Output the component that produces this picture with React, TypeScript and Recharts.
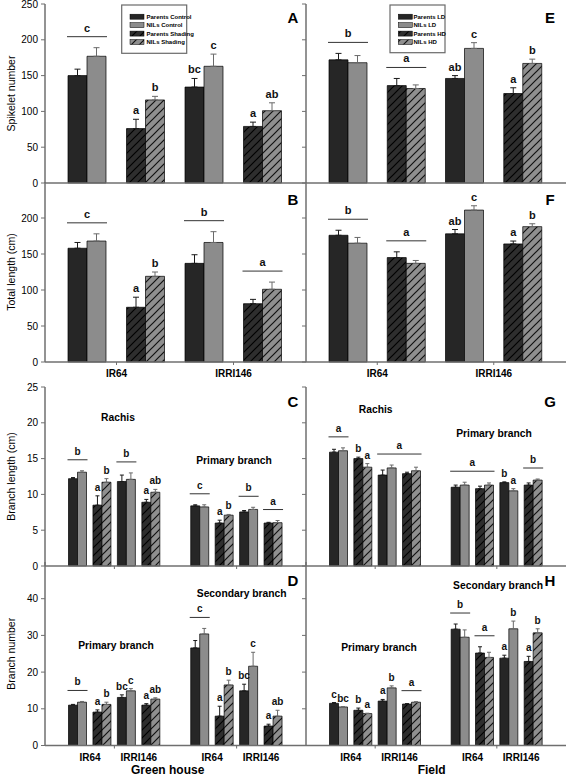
import React from "react";
import { BarChart, Bar, XAxis, YAxis, ErrorBar, Cell, LabelList } from "recharts";

const FONT = "'Liberation Sans', Arial, sans-serif";
const AXIS = "#6f6f6f";
const PARENT = "#262626";
const NIL = "#8c8c8c";

// ---- spikelet number / total length: four pairs per panel
const ghCats = ["IR64 Control", "IR64 Shading", "IRRI146 Control", "IRRI146 Shading"];
const fieldCats = ["IR64 LD", "IR64 HD", "IRRI146 LD", "IRRI146 HD"];

// A
const spikeGhParents = [150, 76, 134, 79];
const spikeGhParentsErr = [9, 13, 12, 6];
const spikeGhNils = [177, 116, 163, 101];
const spikeGhNilsErr = [12, 5, 17, 11];
const spikeGhParentLetters = ["", "a", "bc", "a"];
const spikeGhNilLetters = ["", "b", "c", "ab"];
const spikeGhGroups = [{ from: 0, to: 0, letter: "c" }];

// E
const spikeFieldParents = [172, 136, 146, 125];
const spikeFieldParentsErr = [9, 10, 4, 8];
const spikeFieldNils = [168, 132, 188, 167];
const spikeFieldNilsErr = [10, 5, 8, 6];
const spikeFieldParentLetters = ["", "", "ab", "a"];
const spikeFieldNilLetters = ["", "", "c", "b"];
const spikeFieldGroups = [{ from: 0, to: 0, letter: "b" }, { from: 1, to: 1, letter: "a" }];

// B
const lengthGhParents = [158, 76, 137, 81];
const lengthGhParentsErr = [8, 14, 12, 6];
const lengthGhNils = [168, 119, 166, 101];
const lengthGhNilsErr = [10, 6, 15, 10];
const lengthGhParentLetters = ["", "a", "", ""];
const lengthGhNilLetters = ["", "b", "", ""];
const lengthGhGroups = [
  { from: 0, to: 0, letter: "c" },
  { from: 2, to: 2, letter: "b" },
  { from: 3, to: 3, letter: "a" },
];

// F
const lengthFieldParents = [176, 145, 178, 164];
const lengthFieldParentsErr = [7, 8, 6, 4];
const lengthFieldNils = [165, 137, 211, 188];
const lengthFieldNilsErr = [8, 4, 6, 4];
const lengthFieldParentLetters = ["", "", "ab", "a"];
const lengthFieldNilLetters = ["", "", "c", "b"];
const lengthFieldGroups = [{ from: 0, to: 0, letter: "b" }, { from: 1, to: 1, letter: "a" }];

// ---- branch panels: two blocks of four pairs, "gap" separates them
const branchLenGhCats = [
  "Rachis IR64 Control", "Rachis IR64 Shading", "Rachis IRRI146 Control", "Rachis IRRI146 Shading", "gap",
  "Primary IR64 Control", "Primary IR64 Shading", "Primary IRRI146 Control", "Primary IRRI146 Shading",
];
const branchLenFieldCats = [
  "Rachis IR64 LD", "Rachis IR64 HD", "Rachis IRRI146 LD", "Rachis IRRI146 HD", "gap",
  "Primary IR64 LD", "Primary IR64 HD", "Primary IRRI146 LD", "Primary IRRI146 HD",
];
const branchNumGhCats = [
  "Primary IR64 Control", "Primary IR64 Shading", "Primary IRRI146 Control", "Primary IRRI146 Shading", "gap",
  "Secondary IR64 Control", "Secondary IR64 Shading", "Secondary IRRI146 Control", "Secondary IRRI146 Shading",
];
const branchNumFieldCats = [
  "Primary IR64 LD", "Primary IR64 HD", "Primary IRRI146 LD", "Primary IRRI146 HD", "gap",
  "Secondary IR64 LD", "Secondary IR64 HD", "Secondary IRRI146 LD", "Secondary IRRI146 HD",
];

// C
const branchLenGhParents = [12.2, 8.5, 11.8, 8.9, null, 8.4, 6.0, 7.55, 6.0];
const branchLenGhParentsErr = [0.15, 1.3, 0.9, 0.4, null, 0.15, 0.4, 0.2, 0.1];
const branchLenGhNils = [13.1, 11.7, 12.1, 10.3, null, 8.25, 7.1, 7.9, 6.05];
const branchLenGhNilsErr = [0.2, 0.5, 0.9, 0.4, null, 0.3, 0.1, 0.3, 0.3];
const branchLenGhParentLetters = ["", "a", "", "a", "", "", "a", "", ""];
const branchLenGhNilLetters = ["", "b", "", "ab", "", "", "b", "", ""];
const branchLenGhGroups = [
  { from: 0, to: 0, letter: "b" },
  { from: 2, to: 2, letter: "b" },
  { from: 5, to: 5, letter: "c" },
  { from: 7, to: 7, letter: "b" },
  { from: 8, to: 8, letter: "a" },
];

// G
const branchLenFieldParents = [15.9, 15.0, 12.7, 12.9, null, 11.0, 10.8, 11.65, 11.3];
const branchLenFieldParentsErr = [0.4, 0.2, 0.7, 0.2, null, 0.3, 0.35, 0.1, 0.3];
const branchLenFieldNils = [16.1, 13.8, 13.7, 13.3, null, 11.3, 11.3, 10.5, 12.0];
const branchLenFieldNilsErr = [0.4, 0.5, 0.4, 0.5, null, 0.4, 0.3, 0.3, 0.15];
const branchLenFieldParentLetters = ["", "b", "", "", "", "", "", "b", ""];
const branchLenFieldNilLetters = ["", "a", "", "", "", "", "", "a", ""];
const branchLenFieldGroups = [
  { from: 0, to: 0, letter: "a" },
  { from: 2, to: 3, letter: "a" },
  { from: 5, to: 6, letter: "a" },
  { from: 8, to: 8, letter: "b" },
];

// D
const branchNumGhParents = [11.0, 9.1, 13.1, 11.0, null, 26.6, 8.0, 14.9, 5.3];
const branchNumGhParentsErr = [0.2, 0.6, 0.7, 0.4, null, 2.0, 2.7, 1.8, 0.5];
const branchNumGhNils = [11.8, 11.2, 14.9, 12.65, null, 30.4, 16.5, 21.6, 8.0];
const branchNumGhNilsErr = [0.2, 0.6, 0.6, 0.35, null, 1.5, 1.3, 3.8, 1.6];
const branchNumGhParentLetters = ["", "a", "bc", "a", "", "", "a", "bc", "a"];
const branchNumGhNilLetters = ["", "b", "c", "ab", "", "", "b", "c", "ab"];
const branchNumGhGroups = [{ from: 0, to: 0, letter: "b" }, { from: 5, to: 5, letter: "c" }];

// H
const branchNumFieldParents = [11.5, 9.6, 12.1, 11.3, null, 31.7, 25.2, 23.8, 22.9];
const branchNumFieldParentsErr = [0.2, 0.6, 0.45, 0.1, null, 1.4, 1.7, 0.8, 1.4];
const branchNumFieldNils = [10.5, 8.7, 15.7, 11.8, null, 29.5, 24.0, 31.8, 30.7];
const branchNumFieldNilsErr = [0.1, 0.1, 0.55, 0.15, null, 2.0, 1.4, 2.1, 1.1];
const branchNumFieldParentLetters = ["c", "b", "a", "", "", "", "", "a", "a"];
const branchNumFieldNilLetters = ["bc", "a", "b", "", "", "", "", "b", "b"];
const branchNumFieldGroups = [
  { from: 3, to: 3, letter: "a" },
  { from: 5, to: 5, letter: "b" },
  { from: 6, to: 6, letter: "a" },
];

// axis ticks
const spikeTicks = [0, 50, 100, 150, 200, 250];
const lengthTicks = [0, 50, 100, 150, 200];
const branchLenTicks = [0, 5, 10, 15, 20, 25];
const branchNumTicks = [0, 10, 20, 30, 40];

const pairTickSlots = [0.5, 2.5];
const pairNames = ["IR64", "IRRI146"];
const branchTickSlots = [1.5, 6.5];
const branchNameSlots = [0.5, 2.5, 5.5, 7.5];
const branchNames = ["IR64", "IRRI146", "IR64", "IRRI146"];

const ghLegend = ["Parents Control", "NILs Control", "Parents Shading", "NILs Shading"];
const fieldLegend = ["Parents LD", "NILs LD", "Parents HD", "NILs HD"];

type Group = { from: number; to: number; letter: string };
type Row = { top: number; mt: number; plotH: number; xh: number; border?: boolean };
type Col = { x: number; w: number; yw: number; mr: number; labels: boolean };

const LEFT: Col = { x: 0, w: 306, yw: 45, mr: 0, labels: true };
const RIGHT: Col = { x: 296, w: 271, yw: 10, mr: 1, labels: false };
const ROW1: Row = { top: 0, mt: 4, plotH: 179, xh: 8, border: true };
const ROW2: Row = { top: 172, mt: 10, plotH: 180, xh: 30 };
const ROW3: Row = { top: 377, mt: 10, plotH: 179, xh: 8, border: true };
const ROW4: Row = { top: 552, mt: 10, plotH: 183.5, xh: 32.5 };

const isHatched = (cat: string) => /(Shading|HD)$/.test(cat);

interface PanelProps {
  id: string;
  col: Col;
  row: Row;
  cats: string[];
  parents: (number | null)[];
  parentsErr: (number | null)[];
  nils: (number | null)[];
  nilsErr: (number | null)[];
  parentLetters: string[];
  nilLetters: string[];
  groups: Group[];
  yMax: number;
  yTicks: number[];
  tickSlots: number[];
  nameSlots: number[];
  names: string[];
  extras?: React.ReactNode;
}

const geom = (props: any) => {
  const src = typeof props.x === "number" && typeof props.height === "number" ? props : props.viewBox;
  return { x: src.x as number, y: src.y as number, w: src.width as number, h: src.height as number };
};

function Panel(p: PanelProps) {
  const { col, row } = p;
  const n = p.cats.length;
  const wide = n <= 4;
  const barSize = wide ? 19 : 9;
  const capW = wide ? 3 : 2;
  const fs = wide ? 11 : 10;
  const pad = wide ? { left: 13, right: 14 } : { left: 20.5, right: 20.5 };
  const plotW = col.w - col.yw - col.mr;
  const step = (plotW - pad.left - pad.right) / n;
  const height = row.mt + row.plotH + row.xh;
  const dark = `dark-${p.id}`;
  const grey = `grey-${p.id}`;

  const data = p.cats.map((cat, i) => ({
    cat,
    idx: i,
    parents: p.parents[i],
    nils: p.nils[i],
    parentsErr: p.parentsErr[i] == null ? null : [0, p.parentsErr[i]],
    nilsErr: p.nilsErr[i] == null ? null : [0, p.nilsErr[i]],
  }));

  const letterText = (x: number, y: number, t: string) => (
    <text x={x} y={y} textAnchor="middle" fontSize={fs} fontWeight="bold" fill="#111">
      {t}
    </text>
  );

  const parentLabel = (props: any) => {
    const i = props.value as number;
    const v = p.parents[i];
    if (v == null) return null;
    const { x, y, w, h } = geom(props);
    const k = h / v;
    const out: React.ReactNode[] = [];
    const t = p.parentLetters[i];
    if (t) out.push(<g key="l">{letterText(x + w / 2, y - k * (p.parentsErr[i] ?? 0) - 5, t)}</g>);
    const g = p.groups.find((gr) => gr.from === i);
    if (g) {
      let hi = 0;
      for (let j = g.from; j <= g.to; j++) {
        hi = Math.max(hi, (p.parents[j] ?? 0) + (p.parentsErr[j] ?? 0), (p.nils[j] ?? 0) + (p.nilsErr[j] ?? 0));
      }
      const ly = y + h - k * hi - 11;
      const x1 = x - 1;
      const x2 = x + (g.to - g.from) * step + 2 * w + 1;
      out.push(
        <g key="g">
          <line x1={x1} x2={x2} y1={ly} y2={ly} stroke="#333" strokeWidth={1} />
          {letterText((x1 + x2) / 2, ly - 5, g.letter)}
        </g>
      );
    }
    return <g>{out}</g>;
  };

  const nilLabel = (props: any) => {
    const i = props.value as number;
    const v = p.nils[i];
    const t = p.nilLetters[i];
    if (v == null || !t) return null;
    const { x, y, w, h } = geom(props);
    const k = h / v;
    return letterText(x + w / 2, y - k * (p.nilsErr[i] ?? 0) - 5, t);
  };

  const xTick = (props: any) => {
    const { x, y } = props;
    const i = props.index ?? props.payload?.index;
    const marks = p.tickSlots.filter((s) => Math.floor(s) === i);
    const labs = p.nameSlots.map((s, k) => ({ s, t: p.names[k] })).filter((o) => Math.floor(o.s) === i);
    return (
      <g>
        {marks.map((s) => (
          <line key={s} x1={x + (s - i) * step} x2={x + (s - i) * step} y1={y} y2={y + 3} stroke={AXIS} />
        ))}
        {labs.map((o) => (
          <text key={o.s} x={x + (o.s - i) * step} y={y + 15} textAnchor="middle" fontSize={10} fontWeight="bold" fill="#000">
            {o.t}
          </text>
        ))}
      </g>
    );
  };

  return (
    <div style={{ position: "absolute", left: col.x, top: row.top }}>
      <BarChart
        width={col.w}
        height={height}
        data={data}
        margin={{ top: row.mt, right: col.mr, bottom: 0, left: 0 }}
        barGap={0}
        barSize={barSize}
      >
        <defs>
          <pattern id={dark} width={8} height={8} patternUnits="userSpaceOnUse">
            <rect width={8} height={8} fill="#2e2e2e" />
            <path d="M-2,2 L2,-2 M0,8 L8,0 M6,10 L10,6" stroke="#000" strokeWidth={1.2} />
          </pattern>
          <pattern id={grey} width={8} height={8} patternUnits="userSpaceOnUse">
            <rect width={8} height={8} fill="#8f8f8f" />
            <path d="M-2,2 L2,-2 M0,8 L8,0 M6,10 L10,6" stroke="#111" strokeWidth={1.2} />
          </pattern>
        </defs>
        <XAxis
          dataKey="cat"
          type="category"
          padding={pad}
          interval={0}
          tickLine={false}
          tickSize={0}
          tickMargin={0}
          height={row.xh}
          axisLine={{ stroke: AXIS, strokeWidth: 1.3 }}
          tick={xTick}
        />
        {row.border && (
          <XAxis
            xAxisId="top"
            orientation="top"
            dataKey="cat"
            padding={pad}
            height={0}
            tick={false}
            tickLine={false}
            axisLine={{ stroke: AXIS, strokeWidth: 1.3 }}
          />
        )}
        <YAxis
          type="number"
          domain={[0, p.yMax]}
          ticks={p.yTicks}
          interval={0}
          width={col.yw}
          tickSize={4}
          tickMargin={3}
          axisLine={{ stroke: AXIS, strokeWidth: 1.5 }}
          tickLine={{ stroke: AXIS }}
          tick={{ fill: "#000", fontSize: 10 }}
          tickFormatter={col.labels ? undefined : () => ""}
        />
        {!col.labels && (
          <YAxis
            yAxisId="frame"
            orientation="right"
            type="number"
            domain={[0, 1]}
            width={0}
            tick={false}
            tickLine={false}
            axisLine={{ stroke: AXIS, strokeWidth: 1.3 }}
          />
        )}
        <Bar dataKey="parents" stroke="#000" strokeWidth={0.7} isAnimationActive={false}>
          {data.map((d) => (
            <Cell key={d.cat} fill={isHatched(d.cat) ? `url(#${dark})` : PARENT} />
          ))}
          <ErrorBar dataKey="parentsErr" direction="y" width={capW} stroke="#1a1a1a" strokeWidth={1} />
          <LabelList dataKey="idx" content={parentLabel} />
        </Bar>
        <Bar dataKey="nils" stroke="#000" strokeWidth={0.7} isAnimationActive={false}>
          {data.map((d) => (
            <Cell key={d.cat} fill={isHatched(d.cat) ? `url(#${grey})` : NIL} />
          ))}
          <ErrorBar dataKey="nilsErr" direction="y" width={capW} stroke="#6a6a6a" strokeWidth={1} />
          <LabelList dataKey="idx" content={nilLabel} />
        </Bar>
        {p.extras}
      </BarChart>
    </div>
  );
}

function LegendBox({ id, x, y, w, h, swatchX, textX, labels }: any) {
  const fills = [PARENT, NIL, `url(#dark-${id})`, `url(#grey-${id})`];
  return (
    <g>
      <rect x={x} y={y} width={w} height={h} fill="#fff" stroke="#6a6a6a" strokeWidth={1.2} />
      {labels.map((t: string, i: number) => (
        <g key={t}>
          <rect x={swatchX} y={y + 9.2 + i * 8.45} width={14} height={5} fill={fills[i]} stroke="#000" strokeWidth={0.5} />
          <text x={textX} y={y + 13.8 + i * 8.45} fontSize={6} fontWeight="bold" fill="#000">
            {t}
          </text>
        </g>
      ))}
    </g>
  );
}

const PanelLetter = ({ x, y, t }: { x: number; y: number; t: string }) => (
  <text x={x} y={y} textAnchor="middle" fontSize={15} fontWeight="bold" fill="#000">
    {t}
  </text>
);

const Title = ({ x, y, t }: { x: number; y: number; t: string }) => (
  <text x={x} y={y} textAnchor="middle" fontSize={10.3} fontWeight="bold" fill="#000">
    {t}
  </text>
);

const YTitle = ({ cy, t }: { cy: number; t: string }) => (
  <text x={12} y={cy} transform={`rotate(-90 12 ${cy})`} textAnchor="middle" dominantBaseline="middle" fontSize={10.5} fill="#000">
    {t}
  </text>
);

export default function App() {
  return (
    <div style={{ position: "relative", width: 567, height: 778, overflow: "hidden", background: "#fff", fontFamily: FONT }}>
      <style>{"body{margin:0}"}</style>
      <Panel
        id="A" col={LEFT} row={ROW1} cats={ghCats}
        parents={spikeGhParents} parentsErr={spikeGhParentsErr} nils={spikeGhNils} nilsErr={spikeGhNilsErr}
        parentLetters={spikeGhParentLetters} nilLetters={spikeGhNilLetters} groups={spikeGhGroups}
        yMax={250} yTicks={spikeTicks} tickSlots={[]} nameSlots={[]} names={[]}
        extras={
          <g>
            <YTitle cy={93.5} t="Spikelet number" />
            <LegendBox id="A" x={121.7} y={5} w={65} h={48.3} swatchX={130} textX={146.5} labels={ghLegend} />
            <PanelLetter x={293} y={22.5} t="A" />
          </g>
        }
      />
      <Panel
        id="E" col={RIGHT} row={ROW1} cats={fieldCats}
        parents={spikeFieldParents} parentsErr={spikeFieldParentsErr} nils={spikeFieldNils} nilsErr={spikeFieldNilsErr}
        parentLetters={spikeFieldParentLetters} nilLetters={spikeFieldNilLetters} groups={spikeFieldGroups}
        yMax={250} yTicks={spikeTicks} tickSlots={[]} nameSlots={[]} names={[]}
        extras={
          <g>
            <LegendBox id="E" x={94} y={5} w={55} h={47.7} swatchX={102.3} textX={117.5} labels={fieldLegend} />
            <PanelLetter x={254} y={22.5} t="E" />
          </g>
        }
      />
      <Panel
        id="B" col={LEFT} row={ROW2} cats={ghCats}
        parents={lengthGhParents} parentsErr={lengthGhParentsErr} nils={lengthGhNils} nilsErr={lengthGhNilsErr}
        parentLetters={lengthGhParentLetters} nilLetters={lengthGhNilLetters} groups={lengthGhGroups}
        yMax={250} yTicks={lengthTicks} tickSlots={pairTickSlots} nameSlots={pairTickSlots} names={pairNames}
        extras={
          <g>
            <YTitle cy={100} t="Total length (cm)" />
            <PanelLetter x={293} y={32.5} t="B" />
          </g>
        }
      />
      <Panel
        id="F" col={RIGHT} row={ROW2} cats={fieldCats}
        parents={lengthFieldParents} parentsErr={lengthFieldParentsErr} nils={lengthFieldNils} nilsErr={lengthFieldNilsErr}
        parentLetters={lengthFieldParentLetters} nilLetters={lengthFieldNilLetters} groups={lengthFieldGroups}
        yMax={250} yTicks={lengthTicks} tickSlots={pairTickSlots} nameSlots={pairTickSlots} names={pairNames}
        extras={<PanelLetter x={254} y={32.5} t="F" />}
      />
      <Panel
        id="C" col={LEFT} row={ROW3} cats={branchLenGhCats}
        parents={branchLenGhParents} parentsErr={branchLenGhParentsErr} nils={branchLenGhNils} nilsErr={branchLenGhNilsErr}
        parentLetters={branchLenGhParentLetters} nilLetters={branchLenGhNilLetters} groups={branchLenGhGroups}
        yMax={25} yTicks={branchLenTicks} tickSlots={branchTickSlots} nameSlots={[]} names={[]}
        extras={
          <g>
            <YTitle cy={99.5} t="Branch length (cm)" />
            <PanelLetter x={293} y={29.5} t="C" />
            <Title x={118} y={43.5} t="Rachis" />
            <Title x={234} y={87} t="Primary branch" />
          </g>
        }
      />
      <Panel
        id="G" col={RIGHT} row={ROW3} cats={branchLenFieldCats}
        parents={branchLenFieldParents} parentsErr={branchLenFieldParentsErr} nils={branchLenFieldNils} nilsErr={branchLenFieldNilsErr}
        parentLetters={branchLenFieldParentLetters} nilLetters={branchLenFieldNilLetters} groups={branchLenFieldGroups}
        yMax={25} yTicks={branchLenTicks} tickSlots={branchTickSlots} nameSlots={[]} names={[]}
        extras={
          <g>
            <PanelLetter x={254} y={29.5} t="G" />
            <Title x={79.7} y={36} t="Rachis" />
            <Title x={198} y={60} t="Primary branch" />
          </g>
        }
      />
      <Panel
        id="D" col={LEFT} row={ROW4} cats={branchNumGhCats}
        parents={branchNumGhParents} parentsErr={branchNumGhParentsErr} nils={branchNumGhNils} nilsErr={branchNumGhNilsErr}
        parentLetters={branchNumGhParentLetters} nilLetters={branchNumGhNilLetters} groups={branchNumGhGroups}
        yMax={50} yTicks={branchNumTicks} tickSlots={branchTickSlots} nameSlots={branchNameSlots} names={branchNames}
        extras={
          <g>
            <YTitle cy={101.75} t="Branch number" />
            <PanelLetter x={293} y={34} t="D" />
            <Title x={116} y={97} t="Primary branch" />
            <Title x={241.7} y={44.5} t="Secondary branch" />
            <text x={167.7} y={221.5} textAnchor="middle" fontSize={12} fontWeight="bold" fill="#000">
              Green house
            </text>
          </g>
        }
      />
      <Panel
        id="H" col={RIGHT} row={ROW4} cats={branchNumFieldCats}
        parents={branchNumFieldParents} parentsErr={branchNumFieldParentsErr} nils={branchNumFieldNils} nilsErr={branchNumFieldNilsErr}
        parentLetters={branchNumFieldParentLetters} nilLetters={branchNumFieldNilLetters} groups={branchNumFieldGroups}
        yMax={50} yTicks={branchNumTicks} tickSlots={branchTickSlots} nameSlots={branchNameSlots} names={branchNames}
        extras={
          <g>
            <PanelLetter x={254} y={34} t="H" />
            <Title x={83} y={98.5} t="Primary branch" />
            <Title x={202} y={37} t="Secondary branch" />
            <text x={135.7} y={221.5} textAnchor="middle" fontSize={12} fontWeight="bold" fill="#000">
              Field
            </text>
          </g>
        }
      />
    </div>
  );
}
